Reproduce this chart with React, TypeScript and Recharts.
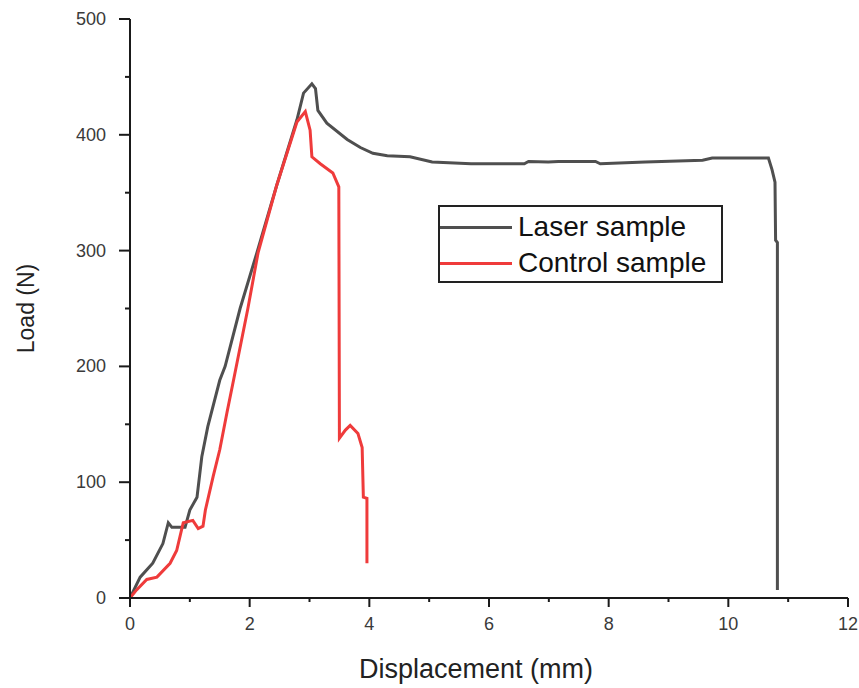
import React from 'react';
import { LineChart, Line, XAxis, YAxis } from 'recharts';

// displacement (mm) / load (N)
const laserDisp = [
  0, 0.17, 0.38, 0.55, 0.64, 0.7, 0.92, 1.0, 1.12, 1.2, 1.3, 1.5, 1.59, 1.84, 2.12, 2.45, 2.79,
  2.9, 3.04, 3.1, 3.14, 3.29, 3.63, 3.85, 4.06, 4.3, 4.68, 5.05, 5.7, 6.59, 6.66, 6.99, 7.16,
  7.78, 7.86, 8.61, 9.57, 9.73, 10.67, 10.73, 10.78, 10.79, 10.82, 10.82,
];
const laserLoad = [
  0, 18, 30, 47, 65, 61, 61, 76, 87, 122, 148, 188, 200, 250, 298, 356, 413,
  436, 444, 440, 421, 410, 396, 389, 384, 382, 381, 376.5, 375, 375, 377, 376.5, 377,
  377, 375, 376.5, 378, 380, 380, 370, 359, 309, 307, 7,
];

const controlDisp = [
  0, 0.11, 0.28, 0.45, 0.67, 0.78, 0.89, 1.05, 1.14, 1.22, 1.26, 1.39, 1.5, 1.62, 1.73, 1.97,
  2.14, 2.45, 2.79, 2.93, 3.01, 3.04, 3.18, 3.39, 3.49, 3.5, 3.6, 3.68, 3.81, 3.88, 3.9, 3.96, 3.96,
];
const controlLoad = [
  0, 7, 16, 18, 30, 41, 65, 67, 60, 62, 76, 105, 128, 160, 188, 250,
  298, 356, 411, 420, 404, 381, 375, 367, 355, 138, 145, 149, 142, 130, 87, 86, 30,
];

const xTicks = [0, 1, 2, 3, 4, 5, 6, 7, 8, 9, 10, 11, 12];
const yTicks = [0, 50, 100, 150, 200, 250, 300, 350, 400, 450, 500];

const toPoints = (xs: number[], ys: number[]) => xs.map((x, i) => ({ x, y: ys[i] }));

const series = [
  { name: 'Laser sample', color: '#4f4f4f', data: toPoints(laserDisp, laserLoad) },
  { name: 'Control sample', color: '#ef3b3b', data: toPoints(controlDisp, controlLoad) },
];

const FONT = 'Arial, "Liberation Sans", sans-serif';
const AXIS = '#1a1a1a';

const XTick = (props: any) => {
  const { x, y, payload } = props;
  const major = payload.value % 2 === 0;
  return (
    <g>
      <line x1={x} x2={x} y1={y} y2={y + (major ? 9 : 4)} stroke={AXIS} strokeWidth={2} />
      {major && (
        <text x={x} y={y + 32} textAnchor="middle" fontSize={18} fill="#3a3a3a" fontFamily={FONT}>
          {payload.value}
        </text>
      )}
    </g>
  );
};

const YTick = (props: any) => {
  const { x, y, payload } = props;
  const major = payload.value % 100 === 0;
  return (
    <g>
      <line x1={x - (major ? 11 : 5)} x2={x} y1={y} y2={y} stroke={AXIS} strokeWidth={2} />
      {major && (
        <text x={x - 24} y={y + 6} textAnchor="end" fontSize={18} fill="#3a3a3a" fontFamily={FONT}>
          {payload.value}
        </text>
      )}
    </g>
  );
};

const App = () => {
  return (
    <div style={{ position: 'absolute', left: 0, top: 0, width: 859, height: 688, background: '#fff' }}>
      <LineChart width={859} height={688} margin={{ top: 19, right: 11, bottom: 0, left: 0 }}>
        <XAxis
          type="number"
          dataKey="x"
          domain={[0, 12]}
          ticks={xTicks}
          interval={0}
          height={90}
          tickSize={0}
          tickMargin={0}
          tick={<XTick />}
          axisLine={{ stroke: AXIS, strokeWidth: 2 }}
          allowDataOverflow
          label={{
            value: 'Displacement (mm)',
            content: (p: any) => (
              <text
                x={p.viewBox.x + p.viewBox.width / 2 - 13}
                y={678}
                textAnchor="middle"
                fontSize={27}
                fill="#222"
                fontFamily={FONT}
              >
                Displacement (mm)
              </text>
            ),
          }}
        />
        <YAxis
          type="number"
          dataKey="y"
          domain={[0, 500]}
          ticks={yTicks}
          interval={0}
          width={130}
          tickSize={0}
          tickMargin={0}
          tick={<YTick />}
          axisLine={{ stroke: AXIS, strokeWidth: 2 }}
          allowDataOverflow
          label={{
            value: 'Load (N)',
            content: (p: any) => {
              const cy = p.viewBox.y + p.viewBox.height / 2;
              return (
                <text
                  x={26}
                  y={cy}
                  transform={`rotate(-90 26 ${cy})`}
                  textAnchor="middle"
                  dominantBaseline="central"
                  fontSize={23}
                  fill="#222"
                  fontFamily={FONT}
                >
                  Load (N)
                </text>
              );
            },
          }}
        />
        {series.map((s) => (
          <Line
            key={s.name}
            data={s.data}
            dataKey="y"
            name={s.name}
            type="linear"
            stroke={s.color}
            strokeWidth={3}
            dot={false}
            activeDot={false}
            isAnimationActive={false}
          />
        ))}
      </LineChart>
      <div
        style={{
          position: 'absolute',
          left: 438,
          top: 205,
          width: 281,
          height: 74,
          border: '2px solid #222',
          background: '#fff',
          fontFamily: FONT,
          fontSize: 28,
          color: '#111',
        }}
      >
        {series.map((s, i) => (
          <div
            key={s.name}
            style={{
              position: 'absolute',
              left: 0,
              top: 2 + i * 36,
              height: 36,
              display: 'flex',
              alignItems: 'center',
              whiteSpace: 'nowrap',
            }}
          >
            <div style={{ width: 72, height: 3, background: s.color, marginRight: 6 }} />
            <span style={{ lineHeight: '36px' }}>{s.name}</span>
          </div>
        ))}
      </div>
    </div>
  );
};

export default App;
